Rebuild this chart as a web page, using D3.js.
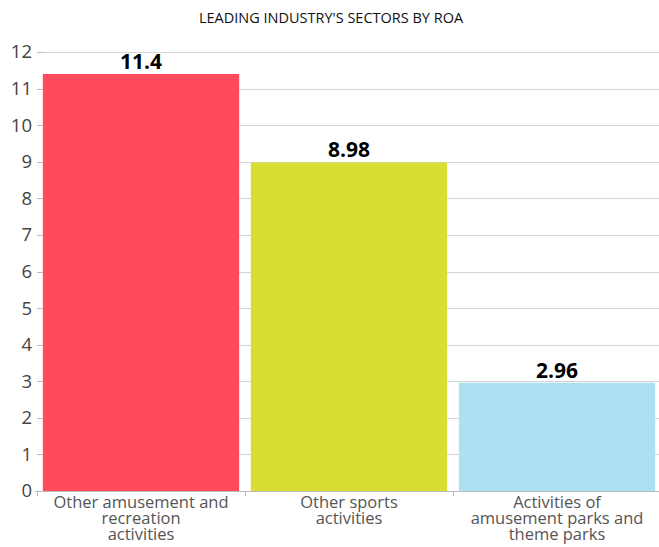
<!DOCTYPE html>
<html lang="en">
<head>
    <meta charset="UTF-8">
    <title>ROA by sector</title>
    <script src="https://cdn.jsdelivr.net/npm/d3@7"></script>
    <style>
        body { margin: 0; background: #fff; }
        svg text { font-family: "Open Sans", sans-serif; }
        .axis path { display: none; }
        .axis line { stroke: #bbb; shape-rendering: crispEdges; }
        .yaxis text { font-size: 18.5px; fill: #444; }
        .grid line { stroke: #d4d4d4; shape-rendering: crispEdges; }
    </style>
</head>
<body>
<script>
	// data
	var categories = [
		["Other amusement and", "recreation", "activities"],
		["Other sports", "activities"],
		["Activities of", "amusement parks and", "theme parks"]
	];
	var values = [11.4, 8.98, 2.96];
	var colors = ["#ff4b5b", "#d8df31", "#ade1f2"];
	var yTicks = [0, 1, 2, 3, 4, 5, 6, 7, 8, 9, 10, 11, 12];

	var width = 659;
	var height = 547;
	var svg = d3.select("body")
		.append("svg")
		.attr("width", width)
		.attr("height", height);

	var x = d3.scaleBand()
		.domain(d3.range(values.length))
		.range([37, 661])
		.paddingInner(0.056)
		.paddingOuter(0.028);

	var y = d3.scaleLinear()
		.domain([0, 12])
		.range([491, 52]);

	// title
	svg.append("text")
		.attr("x", 331)
		.attr("y", 23)
		.attr("text-anchor", "middle")
		.style("font-size", "14.5px")
		.style("fill", "#111")
		.text("LEADING INDUSTRY'S SECTORS BY ROA");

	// gridlines
	svg.append("g")
		.attr("class", "grid")
		.selectAll("line")
		.data(yTicks.slice(1))
		.enter()
		.append("line")
		.attr("x1", 37)
		.attr("x2", width)
		.attr("y1", function (d) { return Math.round(y(d)) + 0.5; })
		.attr("y2", function (d) { return Math.round(y(d)) + 0.5; });

	// bars
	svg.selectAll("rect.bar")
		.data(values)
		.enter()
		.append("rect")
		.attr("class", "bar")
		.attr("x", function (d, i) { return x(i); })
		.attr("y", function (d) { return y(d); })
		.attr("width", x.bandwidth())
		.attr("height", function (d) { return y(0) - y(d); })
		.attr("fill", function (d, i) { return colors[i]; });

	// value labels
	svg.selectAll("text.val")
		.data(values)
		.enter()
		.append("text")
		.attr("class", "val")
		.attr("x", function (d, i) { return x(i) + x.bandwidth() / 2; })
		.attr("y", function (d) { return y(d) - 5; })
		.attr("text-anchor", "middle")
		.style("font-size", "21px")
		.style("font-weight", "bold")
		.style("fill", "#000")
		.text(function (d) { return d; });

	// y axis
	var yAxis = d3.axisLeft(y)
		.tickValues(yTicks)
		.tickSize(6)
		.tickPadding(5)
		.tickFormat(d3.format("d"));
	svg.append("g")
		.attr("class", "axis yaxis")
		.attr("transform", "translate(43,0)")
		.call(yAxis);

	// x axis baseline and ticks at band edges
	svg.append("line")
		.attr("x1", 35)
		.attr("x2", width)
		.attr("y1", Math.round(y(0)) + 0.5)
		.attr("y2", Math.round(y(0)) + 0.5)
		.attr("stroke", "#bbb");
	var edges = [37, 245, 453];
	svg.selectAll("line.xtick")
		.data(edges)
		.enter()
		.append("line")
		.attr("class", "xtick")
		.attr("x1", function (d) { return d + 0.5; })
		.attr("x2", function (d) { return d + 0.5; })
		.attr("y1", Math.round(y(0)))
		.attr("y2", Math.round(y(0)) + 5)
		.attr("stroke", "#bbb");

	// category labels
	var cat = svg.selectAll("text.cat")
		.data(categories)
		.enter()
		.append("text")
		.attr("class", "cat")
		.attr("text-anchor", "middle")
		.style("font-size", "16.5px")
		.style("fill", "#555")
		.attr("transform", function (d, i) {
			return "translate(" + (x(i) + x.bandwidth() / 2) + ",508)";
		});
	cat.selectAll("tspan")
		.data(function (d) { return d; })
		.enter()
		.append("tspan")
		.attr("x", 0)
		.attr("dy", function (d, i) { return i === 0 ? 0 : 16; })
		.text(function (d) { return d; });
</script>
</body>
</html>
